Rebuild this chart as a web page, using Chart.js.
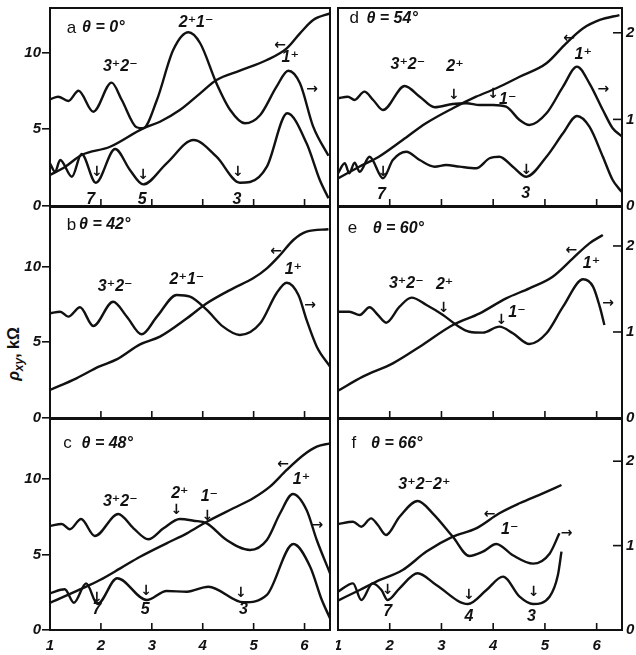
<!DOCTYPE html>
<html><head><meta charset="utf-8">
<script src="https://cdn.jsdelivr.net/npm/chart.js@4.4.1/dist/chart.umd.min.js"></script>
<style>
html,body{margin:0;padding:0;background:#fff;}
body{width:636px;height:655px;position:relative;overflow:hidden;}
.cv{position:absolute;}
#ytitle{position:absolute;left:-35px;top:344px;width:100px;height:20px;line-height:20px;text-align:center;
 transform:rotate(-90deg);font:bold 16px "Liberation Sans","DejaVu Sans",sans-serif;color:#111;white-space:nowrap;}
#ytitle sub{font-size:12px;}
</style></head><body>
<div id="ytitle"><i>ρ<sub>xy</sub></i>, kΩ</div>
<script>
// ---- tick labels ----
const xTicks = [1, 2, 3, 4, 5, 6];
const yTicksL = [0, 5, 10];
const yTicksR = [0, 1, 2];

// ---- panel a (θ = 0°) ----
const aXY_x = [1.00,1.30,1.62,2.18,2.83,3.16,3.55,3.95,4.27,4.73,5.26,5.65,5.91,6.17,6.50];
const aXY   = [2.02,2.56,3.32,3.86,5.06,5.49,6.25,7.34,8.21,8.82,9.51,10.27,11.25,12.12,12.55];
const aUp_x = [1.00,1.16,1.36,1.56,1.85,2.21,2.41,2.70,2.83,3.10,3.42,3.72,3.95,4.27,4.54,4.83,5.13,5.45,5.68,5.91,6.17,6.47];
const aUp   = [1.232,1.262,1.212,1.331,1.089,1.424,1.224,0.909,0.897,1.224,1.801,2.006,1.879,1.417,1.109,0.955,1.051,1.378,1.562,1.417,0.916,0.58];
const aLo_x = [1.00,1.10,1.20,1.43,1.62,1.90,2.28,2.57,2.83,3.29,3.82,4.27,4.73,4.93,5.26,5.66,6.04,6.30,6.47];
const aLo   = [0.493,0.396,0.531,0.338,0.600,0.269,0.658,0.416,0.250,0.493,0.762,0.569,0.269,0.277,0.454,1.07,0.724,0.30,0.09];

// ---- panel b (θ = 42°) ----
const bXY_x = [1.00,1.52,1.96,2.31,2.77,3.16,3.69,4.08,4.60,4.99,5.26,5.52,5.78,6.04,6.47];
const bXY   = [1.85,2.62,3.39,3.87,4.86,5.37,6.58,7.57,8.56,9.22,9.88,10.76,11.75,12.30,12.46];
const bUp_x = [1.00,1.20,1.36,1.59,1.85,2.24,2.51,2.80,3.10,3.49,3.75,4.08,4.40,4.73,5.13,5.45,5.65,5.88,6.04,6.24,6.50];
const bUp   = [1.217,1.236,1.178,1.287,1.070,1.352,1.178,0.973,1.178,1.430,1.410,1.256,1.062,0.965,1.101,1.450,1.573,1.430,1.140,0.829,0.597];

// ---- panel c (θ = 48°) ----
const cXY_x = [1.00,1.59,1.98,2.38,2.77,3.29,3.69,4.08,4.60,4.99,5.32,5.65,5.98,6.24,6.50];
const cXY   = [1.80,2.69,3.31,4.08,4.85,5.74,6.40,7.17,8.06,8.72,9.49,10.60,11.59,12.14,12.36];
const cUp_x = [1.00,1.23,1.39,1.61,1.88,2.34,2.64,2.93,3.23,3.55,3.82,4.08,4.47,4.93,5.26,5.52,5.77,6.04,6.24,6.50];
const cUp   = [1.232,1.256,1.193,1.315,1.114,1.374,1.205,1.075,1.205,1.315,1.295,1.264,1.066,0.948,1.066,1.383,1.611,1.422,1.066,0.672];
const cLo_x = [1.00,1.29,1.47,1.71,1.93,2.32,2.90,3.29,3.69,4.11,4.80,5.26,5.78,6.11,6.34,6.50];
const cLo   = [0.435,0.482,0.323,0.553,0.308,0.613,0.355,0.462,0.454,0.513,0.328,0.415,1.019,0.75,0.355,0.139];

// ---- panel d (θ = 54°) ----
const dXY_x = [1.00,1.41,1.79,2.25,2.70,3.22,3.67,4.06,4.51,5.03,5.41,5.74,6.06,6.44];
const dXY   = [1.80,2.56,3.21,4.30,5.39,6.37,7.12,7.67,8.42,9.30,10.60,11.58,12.12,12.44];
const dUp_x = [1.00,1.19,1.32,1.51,1.68,1.87,2.29,2.58,2.87,3.22,3.48,3.74,4.00,4.25,4.51,4.70,5.03,5.35,5.62,5.86,6.12,6.31,6.48];
const dUp   = [1.244,1.262,1.224,1.320,1.224,1.109,1.386,1.262,1.140,1.178,1.186,1.166,1.166,1.147,0.993,0.935,1.070,1.378,1.609,1.417,1.109,0.897,0.808];
const dLo_x = [1.00,1.13,1.22,1.32,1.42,1.61,1.87,2.06,2.32,2.58,2.87,3.09,3.35,3.67,3.93,4.12,4.38,4.64,5.03,5.35,5.62,5.86,6.12,6.31,6.48];
const dLo   = [0.378,0.493,0.378,0.500,0.396,0.569,0.320,0.531,0.627,0.531,0.454,0.473,0.454,0.435,0.551,0.569,0.454,0.338,0.569,0.839,1.039,0.916,0.569,0.300,0.165];

// ---- panel e (θ = 60°) ----
const eXY_x = [1.00,1.48,2.06,2.58,3.22,3.74,4.25,4.70,5.15,5.54,5.86,6.12];
const eXY   = [1.80,2.73,3.61,4.71,6.14,6.91,7.90,8.56,9.33,10.54,11.53,12.08];
const eUp_x = [1.00,1.22,1.42,1.61,1.77,1.93,2.19,2.42,2.71,3.03,3.29,3.54,3.80,4.12,4.38,4.70,5.03,5.35,5.74,5.93,6.06,6.15];
const eUp   = [1.236,1.236,1.198,1.287,1.198,1.108,1.294,1.399,1.314,1.198,1.081,1.003,0.992,1.062,0.985,0.860,0.985,1.294,1.613,1.527,1.294,1.081];

// ---- panel f (θ = 66°) ----
const fXY_x = [1.00,1.42,1.74,2.25,2.71,3.22,3.67,4.12,4.51,4.96,5.32];
const fXY   = [1.95,2.65,3.20,3.97,5.19,6.18,6.73,7.73,8.39,9.05,9.60];
const fUp_x = [1.00,1.29,1.45,1.64,1.77,1.93,2.19,2.54,2.83,3.22,3.54,3.80,4.06,4.38,4.77,5.09,5.28];
const fUp   = [1.256,1.283,1.224,1.323,1.244,1.126,1.342,1.528,1.383,1.105,0.877,0.928,1.019,0.885,0.786,0.904,1.146];
const fLo_x = [1.00,1.29,1.45,1.67,1.84,1.96,2.19,2.54,2.90,3.51,3.87,4.19,4.51,4.77,5.09,5.25,5.32];
const fLo   = [0.454,0.553,0.355,0.553,0.474,0.355,0.494,0.672,0.533,0.308,0.474,0.632,0.395,0.308,0.395,0.648,0.928];

// ---- annotations: [text, x, y(left axis units), kind] ----
const aNotes = [['a',1.33,11.6,'L'],['θ = 0°',1.63,11.6,'T'],['3⁺2⁻',2.38,9.06],['2⁺1⁻',3.87,11.92],['1⁺',5.72,9.7],
 ['←',5.52,10.49,'A'],['→',6.15,7.62,'A'],['↓',1.92,2.21,'A'],['↓',2.83,2.02,'A'],['↓',4.69,2.21,'A'],
 ['7',1.80,0.44],['5',2.81,0.44],['3',4.67,0.44]];
const bNotes = [['b',1.33,12.74,'L'],['θ = 42°',1.57,12.74,'T'],['3⁺2⁻',2.28,8.67],['2⁺1⁻',3.69,9.15],['1⁺',5.78,9.77],
 ['←',5.44,10.98,'A'],['→',6.11,7.44,'A']];
const cNotes = [['c',1.26,12.36,'L'],['θ = 48°',1.62,12.36,'T'],['3⁺2⁻',2.38,8.50],['2⁺',3.55,9.05],['1⁻',4.13,8.83],['1⁺',5.94,9.93],
 ['←',5.58,10.99,'A'],['→',6.25,6.91,'A'],['↓',3.48,7.95,'A'],['↓',4.09,7.55,'A'],['↓',1.92,2.12,'A'],['↓',2.89,2.54,'A'],['↓',4.75,2.43,'A'],
 ['7',1.92,1.32],['5',2.87,1.37],['3',4.80,1.32]];
const dNotes = [['d',1.22,12.23,'L'],['θ = 54°',1.55,12.23,'T'],['3⁺2⁻',2.35,9.19],['2⁺',3.26,9.07],['↓',3.24,7.23,'A'],['1⁻',4.28,6.91],['↓',4.0,7.3,'A'],
 ['1⁺',5.74,9.84],['←',5.47,10.93,'A'],['→',6.13,7.60,'A'],['↓',1.87,2.21,'A'],['↓',4.64,2.35,'A'],['7',1.84,0.72],['3',4.63,0.83]];
const eNotes = [['e',1.19,12.52,'L'],['θ = 60°',1.67,12.52,'T'],['3⁺2⁻',2.32,8.89],['2⁺',3.06,8.78],['↓',3.04,7.24,'A'],['↓',4.16,6.47,'A'],
 ['1⁻',4.46,6.98],['1⁺',5.90,10.21],['←',5.51,11.09,'A'],['→',6.22,7.57,'A']];
const fNotes = [['f',1.26,12.36,'L'],['θ = 66°',1.64,12.36,'T'],['3⁺2⁻2⁺',2.67,9.60],['←',3.93,7.66,'A'],['1⁻',4.32,6.62],['→',5.42,6.40,'A'],
 ['↓',1.96,2.60,'A'],['↓',3.53,2.32,'A'],['↓',4.78,2.47,'A'],['7',1.96,1.21],['4',3.53,0.88],['3',4.74,0.88]];

// ---- layout ----
const FAM = '"Liberation Sans", "DejaVu Sans", sans-serif';
const NOTE_FONT = 'italic bold 16px ' + FAM;
const LETTER_FONT = '17px ' + FAM;
const ARROW_FONT = 'bold 14px "DejaVu Sans", sans-serif';
const TICK_FONT = {family: FAM, size: 15, style: 'italic', weight: 'bold'};
const INK = '#111';

const ROWS = [
  {top: 0,   h: 214, pt: 8, pb: 8, ymax: 12.9,  y2max: 2.286, xlab: false},
  {top: 205, h: 221, pt: 2, pb: 8, ymax: 13.93, y2max: 2.453, xlab: false},
  {top: 417, h: 238, pt: 2, pb: 0, ymax: 13.97, y2max: 2.5,   xlab: true}
];
const COLS = [
  {left: 0,   w: 332, pl: 0, pr: 2, xmax: 6.50, leftAxis: true},
  {left: 336, w: 300, pl: 2, pr: 0, xmax: 6.49, leftAxis: false}
];

const PANELS = [
  {c: 0, r: 0, notes: aNotes, sets: [[aXY_x, aXY, 'y'], [aUp_x, aUp, 'y2'], [aLo_x, aLo, 'y2']]},
  {c: 0, r: 1, notes: bNotes, sets: [[bXY_x, bXY, 'y'], [bUp_x, bUp, 'y2']]},
  {c: 0, r: 2, notes: cNotes, sets: [[cXY_x, cXY, 'y'], [cUp_x, cUp, 'y2'], [cLo_x, cLo, 'y2']]},
  {c: 1, r: 0, notes: dNotes, sets: [[dXY_x, dXY, 'y'], [dUp_x, dUp, 'y2'], [dLo_x, dLo, 'y2']]},
  {c: 1, r: 1, notes: eNotes, sets: [[eXY_x, eXY, 'y'], [eUp_x, eUp, 'y2']]},
  {c: 1, r: 2, notes: fNotes, sets: [[fXY_x, fXY, 'y'], [fUp_x, fUp, 'y2'], [fLo_x, fLo, 'y2']]}
];

function decor(notes, rightTicks) {
  return {
    id: 'decor',
    afterDatasetsDraw(chart) {
      const {ctx, chartArea: a, scales} = chart;
      ctx.save();
      ctx.strokeStyle = INK;
      ctx.lineWidth = 2;
      ctx.strokeRect(a.left, a.top, a.right - a.left, a.bottom - a.top);
      ctx.lineWidth = 1.6;
      xTicks.forEach(v => {
        if (v <= scales.x.min) return;
        const px = scales.x.getPixelForValue(v);
        ctx.beginPath(); ctx.moveTo(px, a.bottom); ctx.lineTo(px, a.bottom - 7); ctx.stroke();
      });
      if (rightTicks) {
        yTicksR.forEach(v => {
          if (v <= 0) return;
          const py = scales.y2.getPixelForValue(v);
          ctx.beginPath(); ctx.moveTo(a.right, py); ctx.lineTo(a.right - 9, py); ctx.stroke();
        });
      }
      ctx.fillStyle = INK;
      ctx.textBaseline = 'middle';
      notes.forEach(n => {
        const kind = n[3] || '';
        ctx.font = kind === 'L' ? LETTER_FONT : (kind === 'A' ? ARROW_FONT : NOTE_FONT);
        ctx.textAlign = (kind === 'L' || kind === 'T') ? 'left' : 'center';
        ctx.fillText(n[0], scales.x.getPixelForValue(n[1]), scales.y.getPixelForValue(n[2]));
      });
      ctx.restore();
    }
  };
}

function fixFit(s, size, horizontal) {
  const v = s.options.display ? size : 0;
  if (horizontal) s.height = v; else s.width = v;
  s.paddingTop = 0; s.paddingBottom = 0; s.paddingLeft = 0; s.paddingRight = 0;
}

PANELS.forEach((p, i) => {
  const row = ROWS[p.r], col = COLS[p.c];
  const cv = document.createElement('canvas');
  cv.className = 'cv';
  cv.width = col.w; cv.height = row.h;
  cv.style.left = col.left + 'px'; cv.style.top = row.top + 'px';
  cv.style.width = col.w + 'px'; cv.style.height = row.h + 'px';
  document.body.appendChild(cv);

  const datasets = p.sets.map(s => ({
    data: s[0].map((x, k) => ({x: x, y: s[1][k]})),
    yAxisID: s[2],
    borderColor: INK, borderWidth: 2.4,
    pointRadius: 0, fill: false,
    cubicInterpolationMode: 'monotone'
  }));

  new Chart(cv, {
    type: 'line',
    data: {datasets: datasets},
    options: {
      responsive: false, animation: false, events: [],
      layout: {padding: {top: row.pt, bottom: row.pb, left: col.pl, right: col.pr}},
      plugins: {legend: {display: false}, tooltip: {enabled: false}},
      scales: {
        x: {
          type: 'linear', min: 1, max: col.xmax, display: row.xlab,
          grid: {display: false, drawTicks: false}, border: {display: false},
          afterBuildTicks(s) { s.ticks = xTicks.map(v => ({value: v})); },
          ticks: {font: TICK_FONT, color: INK, padding: 7, maxRotation: 0, autoSkip: false},
          afterFit(s) { fixFit(s, 25, true); }
        },
        y: {
          min: 0, max: row.ymax, position: 'left', display: col.leftAxis,
          grid: {display: true, drawOnChartArea: false, drawTicks: true, tickLength: 8, color: INK, lineWidth: 1.6},
          border: {display: false},
          afterBuildTicks(s) { s.ticks = yTicksL.map(v => ({value: v})); },
          ticks: {font: TICK_FONT, color: INK, padding: 1},
          afterFit(s) { fixFit(s, 50, false); }
        },
        y2: {
          min: 0, max: row.y2max, position: 'right', display: !col.leftAxis,
          grid: {display: false, drawTicks: false}, border: {display: false},
          afterBuildTicks(s) { s.ticks = yTicksR.map(v => ({value: v})); },
          ticks: {font: TICK_FONT, color: INK, padding: 4},
          afterFit(s) { fixFit(s, 14, false); }
        }
      }
    },
    plugins: [decor(p.notes, !col.leftAxis)]
  });
});
</script>
</body></html>
